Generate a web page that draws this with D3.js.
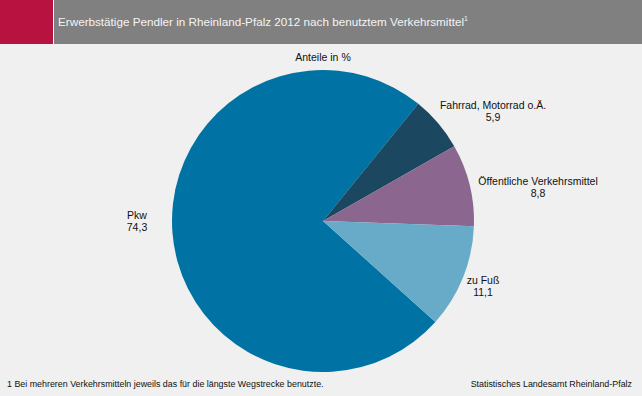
<!DOCTYPE html>
<html>
<head>
<meta charset="utf-8">
<script src="https://cdn.jsdelivr.net/npm/d3@7"></script>
<style>
    body { margin: 0; background: #eff0ef; }
    svg { display: block; font-family: "Liberation Sans", Arial, sans-serif; }
</style>
</head>
<body>
<svg id="chart" width="642" height="396"></svg>
<script>
// Anteile in %, Reihenfolge im Uhrzeigersinn ab Pkw
let categories = ['Pkw', 'Fahrrad, Motorrad o.Ä.', 'Öffentliche Verkehrsmittel', 'zu Fuß'];
let values = [74.3, 5.9, 8.8, 11.1];
let valueLabels = ['74,3', '5,9', '8,8', '11,1'];
let colors = ['#0072a3', '#1b4760', '#8b668f', '#67abc9'];

let graphicopt = {
    width: 642,
    height: 396,
    header: 44,
    cx: 323,
    cy: 221,
    radius: 151
};

let svg = d3.select('#chart');

// header
svg.append('rect').attr('x', 0).attr('y', 0).attr('width', graphicopt.width).attr('height', graphicopt.header)
    .style('fill', '#808080');
svg.append('rect').attr('x', 0).attr('y', 0).attr('width', 53).attr('height', graphicopt.header)
    .style('fill', '#b81240');
svg.append('rect').attr('x', 53).attr('y', 0).attr('width', 1).attr('height', graphicopt.header)
    .style('fill', '#ffffff');
let title = svg.append('text').attr('x', 58).attr('y', 26)
    .style('fill', '#f4f4f4').style('font-size', '11.7px');
title.append('tspan').text('Erwerbstätige Pendler in Rheinland-Pfalz 2012 nach benutztem Verkehrsmittel');
title.append('tspan').attr('dy', -5).style('font-size', '7px').text('1');

svg.append('text').attr('x', graphicopt.cx).attr('y', 61).attr('text-anchor', 'middle')
    .style('font-size', '10.5px').style('fill', '#111').text('Anteile in %');

// pie: zu Fuß beginnt knapp unter 3 Uhr (ca. 92°), Pkw schliesst im Uhrzeigersinn an
let total = d3.sum(values);
let startDeg = 92 + values[3] / total * 360;
let pie = d3.pie().sort(null)
    .startAngle(startDeg * Math.PI / 180)
    .endAngle((startDeg + 360) * Math.PI / 180);
let arc = d3.arc().innerRadius(0).outerRadius(graphicopt.radius);

let arcs = pie(values);
let g = svg.append('g').attr('transform', 'translate(' + graphicopt.cx + ',' + graphicopt.cy + ')');
g.selectAll('path').data(arcs).enter().append('path')
    .attr('d', arc)
    .style('fill', (d, i) => colors[i]);

// labels, relativ zum Mittelpunkt
let labelPos = [[-186, -2], [170, -112], [215, -36], [160, 63]];
let lab = g.selectAll('.label').data(arcs).enter().append('text')
    .attr('class', 'label')
    .attr('text-anchor', 'middle')
    .attr('transform', (d, i) => 'translate(' + labelPos[i][0] + ',' + labelPos[i][1] + ')')
    .style('font-size', '10.5px').style('fill', '#111');
lab.append('tspan').attr('x', 0).attr('y', 0).text((d, i) => categories[i]);
lab.append('tspan').attr('x', 0).attr('y', 12).text((d, i) => valueLabels[i]);

// footer
svg.append('text').attr('x', 7).attr('y', 387).style('font-size', '8.9px').style('fill', '#111')
    .text('1 Bei mehreren Verkehrsmitteln jeweils das für die längste Wegstrecke benutzte.');
svg.append('text').attr('x', 632).attr('y', 387).attr('text-anchor', 'end').style('font-size', '8.9px').style('fill', '#111')
    .text('Statistisches Landesamt Rheinland-Pfalz');
</script>
</body>
</html>
